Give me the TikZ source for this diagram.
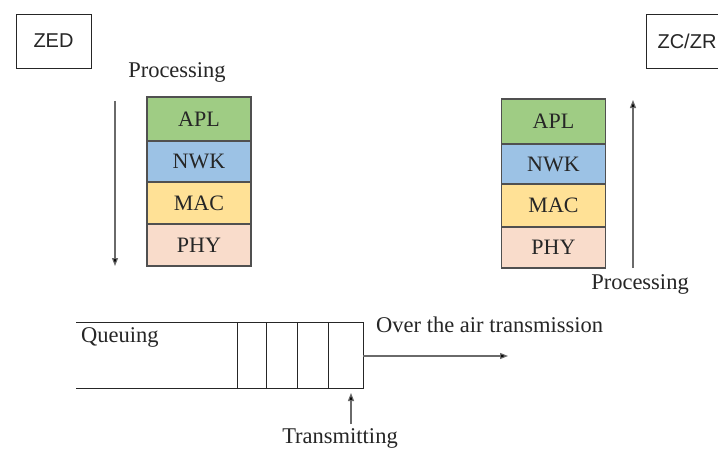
\documentclass[tikz,border=0pt]{standalone}
\usepackage{fontspec}
\setmainfont{Liberation Serif}
\newfontfamily\labelsans{Liberation Sans}
\usetikzlibrary{arrows.meta}

\definecolor{aplgreen}{HTML}{9FCC84}
\definecolor{nwkblue}{HTML}{9CC2E5}
\definecolor{macyellow}{HTML}{FFE196}
\definecolor{phypeach}{HTML}{F9DCCB}
\definecolor{edgegray}{HTML}{505050}
\definecolor{flowgray}{HTML}{6A6A6A}
\definecolor{inkdark}{HTML}{262626}

\tikzset{
  layer/.style={draw=edgegray, line width=1.1pt, inner sep=0pt,
    minimum width=104pt, text=inkdark,
    font=\fontsize{22}{26}\selectfont},
  devbox/.style={draw=inkdark, line width=0.9pt, inner sep=0pt,
    minimum height=54pt, text=inkdark,
    font=\labelsans\fontsize{20}{24}\selectfont},
  caption/.style={inner sep=0pt, text=inkdark,
    font=\fontsize{22.5}{27}\selectfont},
  flow/.style={draw=flowgray, line width=1.1pt,
    -{Triangle[length=8pt,width=6pt,fill=black]}},
  queueline/.style={draw=inkdark, line width=1pt}
}

\begin{document}
\begin{tikzpicture}[x=1pt,y=-1pt]
  \clip (0,0) rectangle (718,452);
  \fill[white] (0,0) rectangle (718,452);

  % device labels
  \node[devbox, minimum width=75pt] (zed) at (53.5,41) {ZED};
  \node[devbox, minimum width=84pt] (zczr) at (688,41) {\hspace*{-2pt}ZC/ZR};

  % left protocol stack (sending side)
  \node[layer, fill=aplgreen,  minimum height=44pt] (lapl) at (199,119)   {APL};
  \node[layer, fill=nwkblue,   minimum height=41pt] (lnwk) at (199,161.5) {NWK};
  \node[layer, fill=macyellow, minimum height=42pt] (lmac) at (199,203)   {MAC};
  \node[layer, fill=phypeach,  minimum height=42pt] (lphy) at (199,245)   {PHY};

  % right protocol stack (receiving side)
  \node[layer, fill=aplgreen,  minimum height=45pt] (rapl) at (553.5,121.5) {APL};
  \node[layer, fill=nwkblue,   minimum height=40pt] (rnwk) at (553.5,164)   {NWK};
  \node[layer, fill=macyellow, minimum height=43pt] (rmac) at (553.5,205.5) {MAC};
  \node[layer, fill=phypeach,  minimum height=41pt] (rphy) at (553.5,247.5) {PHY};

  % processing direction
  \node[caption] (lproc) at (177,72) {Processing};
  \coordinate (ldown0) at (115,101);
  \coordinate (ldown1) at (115,266);
  \draw[flow] (ldown0) -- (ldown1);

  \node[caption] (rproc) at (640,284) {Processing};
  \coordinate (rup0) at (633,268);
  \coordinate (rup1) at (633,100);
  \draw[flow] (rup0) -- (rup1);

  % transmit queue
  \coordinate (qtl) at (76,322);
  \coordinate (qbl) at (76,388);
  \coordinate (qtr) at (363,322);
  \coordinate (qbr) at (363,388);
  \draw[queueline] (qtl) -- (qtr) -- (qbr) -- (qbl);
  \foreach \xs in {237,266,297,328}{
    \draw[queueline] (\xs,322) -- (\xs,388);
  }
  \node[caption, anchor=west] (queuing) at (81,337) {Queuing};

  % over the air
  \coordinate (air0) at (363,356);
  \coordinate (air1) at (508,356);
  \draw[flow] (air0) -- (air1);
  \node[caption, anchor=west] (airtext) at (376,325) {Over the air transmission};

  % transmitting pointer
  \node[caption] (transmit) at (340,438) {Transmitting};
  \coordinate (tx0) at (351,424);
  \coordinate (tx1) at (351,393);
  \draw[flow] (tx0) -- (tx1);
\end{tikzpicture}
\end{document}
